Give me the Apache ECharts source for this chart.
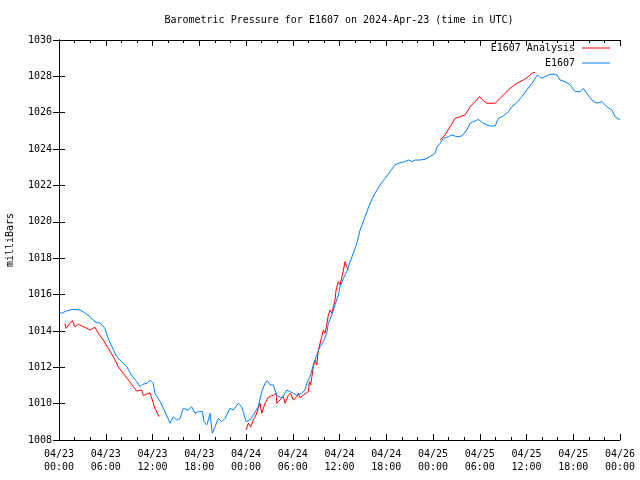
<!DOCTYPE html>
<html>
<head>
<meta charset="utf-8">
<script src="https://cdn.jsdelivr.net/npm/echarts@6/dist/echarts.min.js"></script>
<style>html,body{margin:0;padding:0;background:#fff}#c{width:640px;height:480px}</style>
</head>
<body>
<div id="c"></div>
<script>
// tick labels (every 6 hours from 2024-04-23 00:00 UTC)
const tickLabels = ['04/23\n00:00','04/23\n06:00','04/23\n12:00','04/23\n18:00','04/24\n00:00','04/24\n06:00','04/24\n12:00','04/24\n18:00','04/25\n00:00','04/25\n06:00','04/25\n12:00','04/25\n18:00','04/26\n00:00'];

// E1607 observations: hours since 04/23 00:00 UTC, pressure (mb)
const stationHours = [0,0.35,1.0,1.8,2.7,3.3,4.0,4.6,5.3,5.9,6.3,6.8,7.4,8.05,8.7,9.3,10.0,10.4,10.7,11.3,11.7,12.1,12.3,13.0,13.4,13.8,14.25,14.67,15.11,15.53,15.96,16.6,17.03,17.46,17.88,18.4,18.61,18.96,19.17,19.38,19.68,20.03,20.45,20.89,21.31,21.95,22.38,23.02,23.45,24.01,24.52,24.94,25.58,26.02,26.44,26.74,27.09,27.51,27.95,28.59,29.23,29.65,30.08,30.51,31.16,31.58,31.8,32.22,32.64,33.08,33.5,33.93,34.36,34.57,35.01,35.43,35.85,36.07,36.5,36.93,37.36,37.78,38.22,38.64,39.28,39.92,40.56,41.21,41.85,42.49,43.13,43.77,44.42,44.84,45.28,45.7,46.34,46.98,47.63,48.27,48.5,48.9,49.33,49.97,50.41,51.05,51.69,52.34,52.76,53.18,53.83,54.46,55.33,55.97,56.39,57.03,57.68,58.11,58.75,59.4,60.04,60.68,61.1,61.4,61.84,62.39,62.81,63.45,63.89,64.31,64.96,65.6,66.24,66.88,67.3,67.74,68.38,69.02,69.67,70.31,70.95,71.37,72.0];
const stationValues = [1015.05,1014.97,1015.11,1015.19,1015.15,1015.0,1014.78,1014.5,1014.42,1014.14,1013.59,1013.13,1012.58,1012.3,1012.03,1011.57,1011.2,1010.93,1011.06,1011.12,1011.3,1011.12,1010.57,1010.1,1009.74,1009.38,1008.92,1009.28,1009.1,1009.19,1009.74,1009.65,1009.83,1009.47,1009.56,1009.56,1009.01,1008.83,1009.1,1009.47,1008.37,1008.73,1009.19,1009.01,1009.19,1009.74,1009.65,1010.02,1009.83,1009.01,1009.1,1009.38,1009.83,1010.66,1011.12,1011.26,1011.03,1011.03,1010.45,1010.3,1010.75,1010.66,1010.57,1010.47,1010.57,1010.75,1011.12,1011.48,1012.13,1012.68,1013.13,1013.41,1013.87,1014.42,1014.88,1015.43,1015.98,1016.43,1016.89,1017.26,1017.81,1018.27,1018.82,1019.55,1020.28,1021.02,1021.57,1022.03,1022.39,1022.76,1023.13,1023.25,1023.31,1023.4,1023.31,1023.4,1023.4,1023.44,1023.59,1023.77,1024.1,1024.31,1024.59,1024.68,1024.78,1024.68,1024.72,1025.05,1025.42,1025.51,1025.63,1025.42,1025.27,1025.27,1025.69,1025.82,1026.06,1026.33,1026.55,1026.88,1027.25,1027.61,1027.89,1028.08,1027.89,1027.98,1028.08,1028.13,1028.08,1027.8,1027.71,1027.53,1027.16,1027.16,1027.34,1027.07,1026.7,1026.52,1026.61,1026.33,1026.15,1025.78,1025.6];

// E1607 Analysis: hours, pressure (null = gap)
const analysisHours = [0.77,0.9,1.41,1.71,2.05,2.48,2.91,3.34,3.98,4.62,5.04,5.69,6.33,6.97,7.61,8.25,8.9,9.54,9.97,10.62,10.82,11.26,11.68,11.98,12.32,12.84,18,24.01,24.3,24.61,24.94,25.29,25.58,25.8,26.02,26.44,26.87,27.51,27.86,27.95,28.37,28.8,29.01,29.44,29.74,30.08,30.51,30.72,30.94,31.36,32.0,32.14,32.31,32.64,32.86,33.08,33.29,33.72,33.93,34.15,34.36,34.57,34.79,35.01,35.21,35.43,35.56,35.85,36.07,36.42,36.71,36.93,37.14,43,48.91,49.55,50.19,50.83,51.48,52.12,52.76,53.4,53.95,54.39,54.9,55.97,56.61,57.25,57.89,58.75,59.6,60.24,60.68,61.1];
const analysisValues = [1014.42,1014.14,1014.42,1014.56,1014.23,1014.36,1014.28,1014.2,1014.05,1014.2,1013.87,1013.5,1013.04,1012.58,1012.03,1011.66,1011.3,1010.93,1010.69,1010.75,1010.44,1010.52,1010.6,1010.2,1009.74,1009.28,null,1008.55,1008.92,1008.73,1009.1,1009.38,1009.74,1010.02,1009.47,1010.02,1010.35,1010.47,1010.57,1010.02,1010.2,1010.38,1010.02,1010.47,1010.57,1010.2,1010.38,1010.57,1010.33,1010.47,1010.66,1011.21,1011.03,1012.03,1012.4,1012.13,1012.95,1013.68,1014.05,1013.87,1014.33,1014.88,1015.15,1014.97,1015.33,1015.7,1016.25,1016.71,1016.53,1017.17,1017.81,1017.53,1017.35,null,1024.5,1024.78,1025.23,1025.69,1025.78,1025.88,1026.33,1026.61,1026.88,1026.7,1026.52,1026.52,1026.79,1027.07,1027.34,1027.61,1027.8,1027.98,1028.17,1028.22];

const FONT = 'DejaVu Sans Mono';
const pair = (hs, vs) => hs.map((h, i) => [h, vs[i] === null ? '-' : vs[i]]);

const axisLineStyle = { show: true, lineStyle: { color: '#000', width: 1 } };
const xBase = {
  type: 'value', min: 0, max: 72, interval: 6,
  axisLine: axisLineStyle,
  axisTick: { show: true, inside: true, length: 6, lineStyle: { color: '#000' } },
  minorTick: { show: true, splitNumber: 3, length: 3, lineStyle: { color: '#000' } },
  splitLine: { show: false }, minorSplitLine: { show: false }
};
const yBase = {
  type: 'value', min: 1008, max: 1030, interval: 2,
  axisLine: axisLineStyle,
  axisTick: { show: true, inside: true, length: 6, lineStyle: { color: '#000' } },
  splitLine: { show: false }
};

const chart = echarts.init(document.getElementById('c'), null, { renderer: 'canvas' });
const legendText = { fontFamily: FONT, fontSize: 10, color: '#000', padding: [0, 2, 0, 0] };
chart.setOption({
  animation: false,
  backgroundColor: '#fff',
  title: {
    text: 'Barometric Pressure for E1607 on 2024-Apr-23 (time in UTC)',
    left: 339, top: 15, padding: 0, textAlign: 'center',
    textStyle: { fontFamily: FONT, fontSize: 10, fontWeight: 'normal', color: '#000' }
  },
  legend: [
    { data: ['E1607 Analysis'], right: 30, top: 43, align: 'right', itemWidth: 28, itemHeight: 1, padding: 0,
      icon: 'rect', itemGap: 0, textStyle: legendText },
    { data: ['E1607'], right: 30, top: 58, align: 'right', itemWidth: 28, itemHeight: 1, padding: 0,
      icon: 'rect', itemGap: 0, textStyle: legendText }
  ],
  grid: { left: 59, right: 20, top: 40, bottom: 40, containLabel: false, outerBoundsMode: 'none' },
  xAxis: [
    Object.assign({}, xBase, {
      position: 'bottom',
      axisLabel: { show: true, margin: 8, lineHeight: 13, fontFamily: FONT, fontSize: 10, color: '#000',
        formatter: (v) => tickLabels[Math.round(v / 6)] }
    }),
    Object.assign({}, xBase, { position: 'top', axisLabel: { show: false } })
  ],
  yAxis: [
    Object.assign({}, yBase, {
      position: 'left',
      name: 'milliBars', nameLocation: 'middle', nameGap: 44,
      nameTextStyle: { fontFamily: FONT, fontSize: 10, color: '#000' },
      axisLabel: { show: true, margin: 7, fontFamily: FONT, fontSize: 10, color: '#000',
        formatter: (v) => String(v) }
    }),
    Object.assign({}, yBase, { position: 'right', axisLabel: { show: false } })
  ],
  series: [
    { name: 'E1607 Analysis', type: 'line', xAxisIndex: 0, yAxisIndex: 0, data: pair(analysisHours, analysisValues),
      showSymbol: false, symbol: 'none', connectNulls: false, lineStyle: { color: '#ff0000', width: 1 }, itemStyle: { color: '#ff0000' } },
    { name: 'E1607', type: 'line', xAxisIndex: 0, yAxisIndex: 0, data: pair(stationHours, stationValues),
      showSymbol: false, symbol: 'none', lineStyle: { color: '#0080ff', width: 1 }, itemStyle: { color: '#0080ff' } }
  ]
});
</script>
</body>
</html>
